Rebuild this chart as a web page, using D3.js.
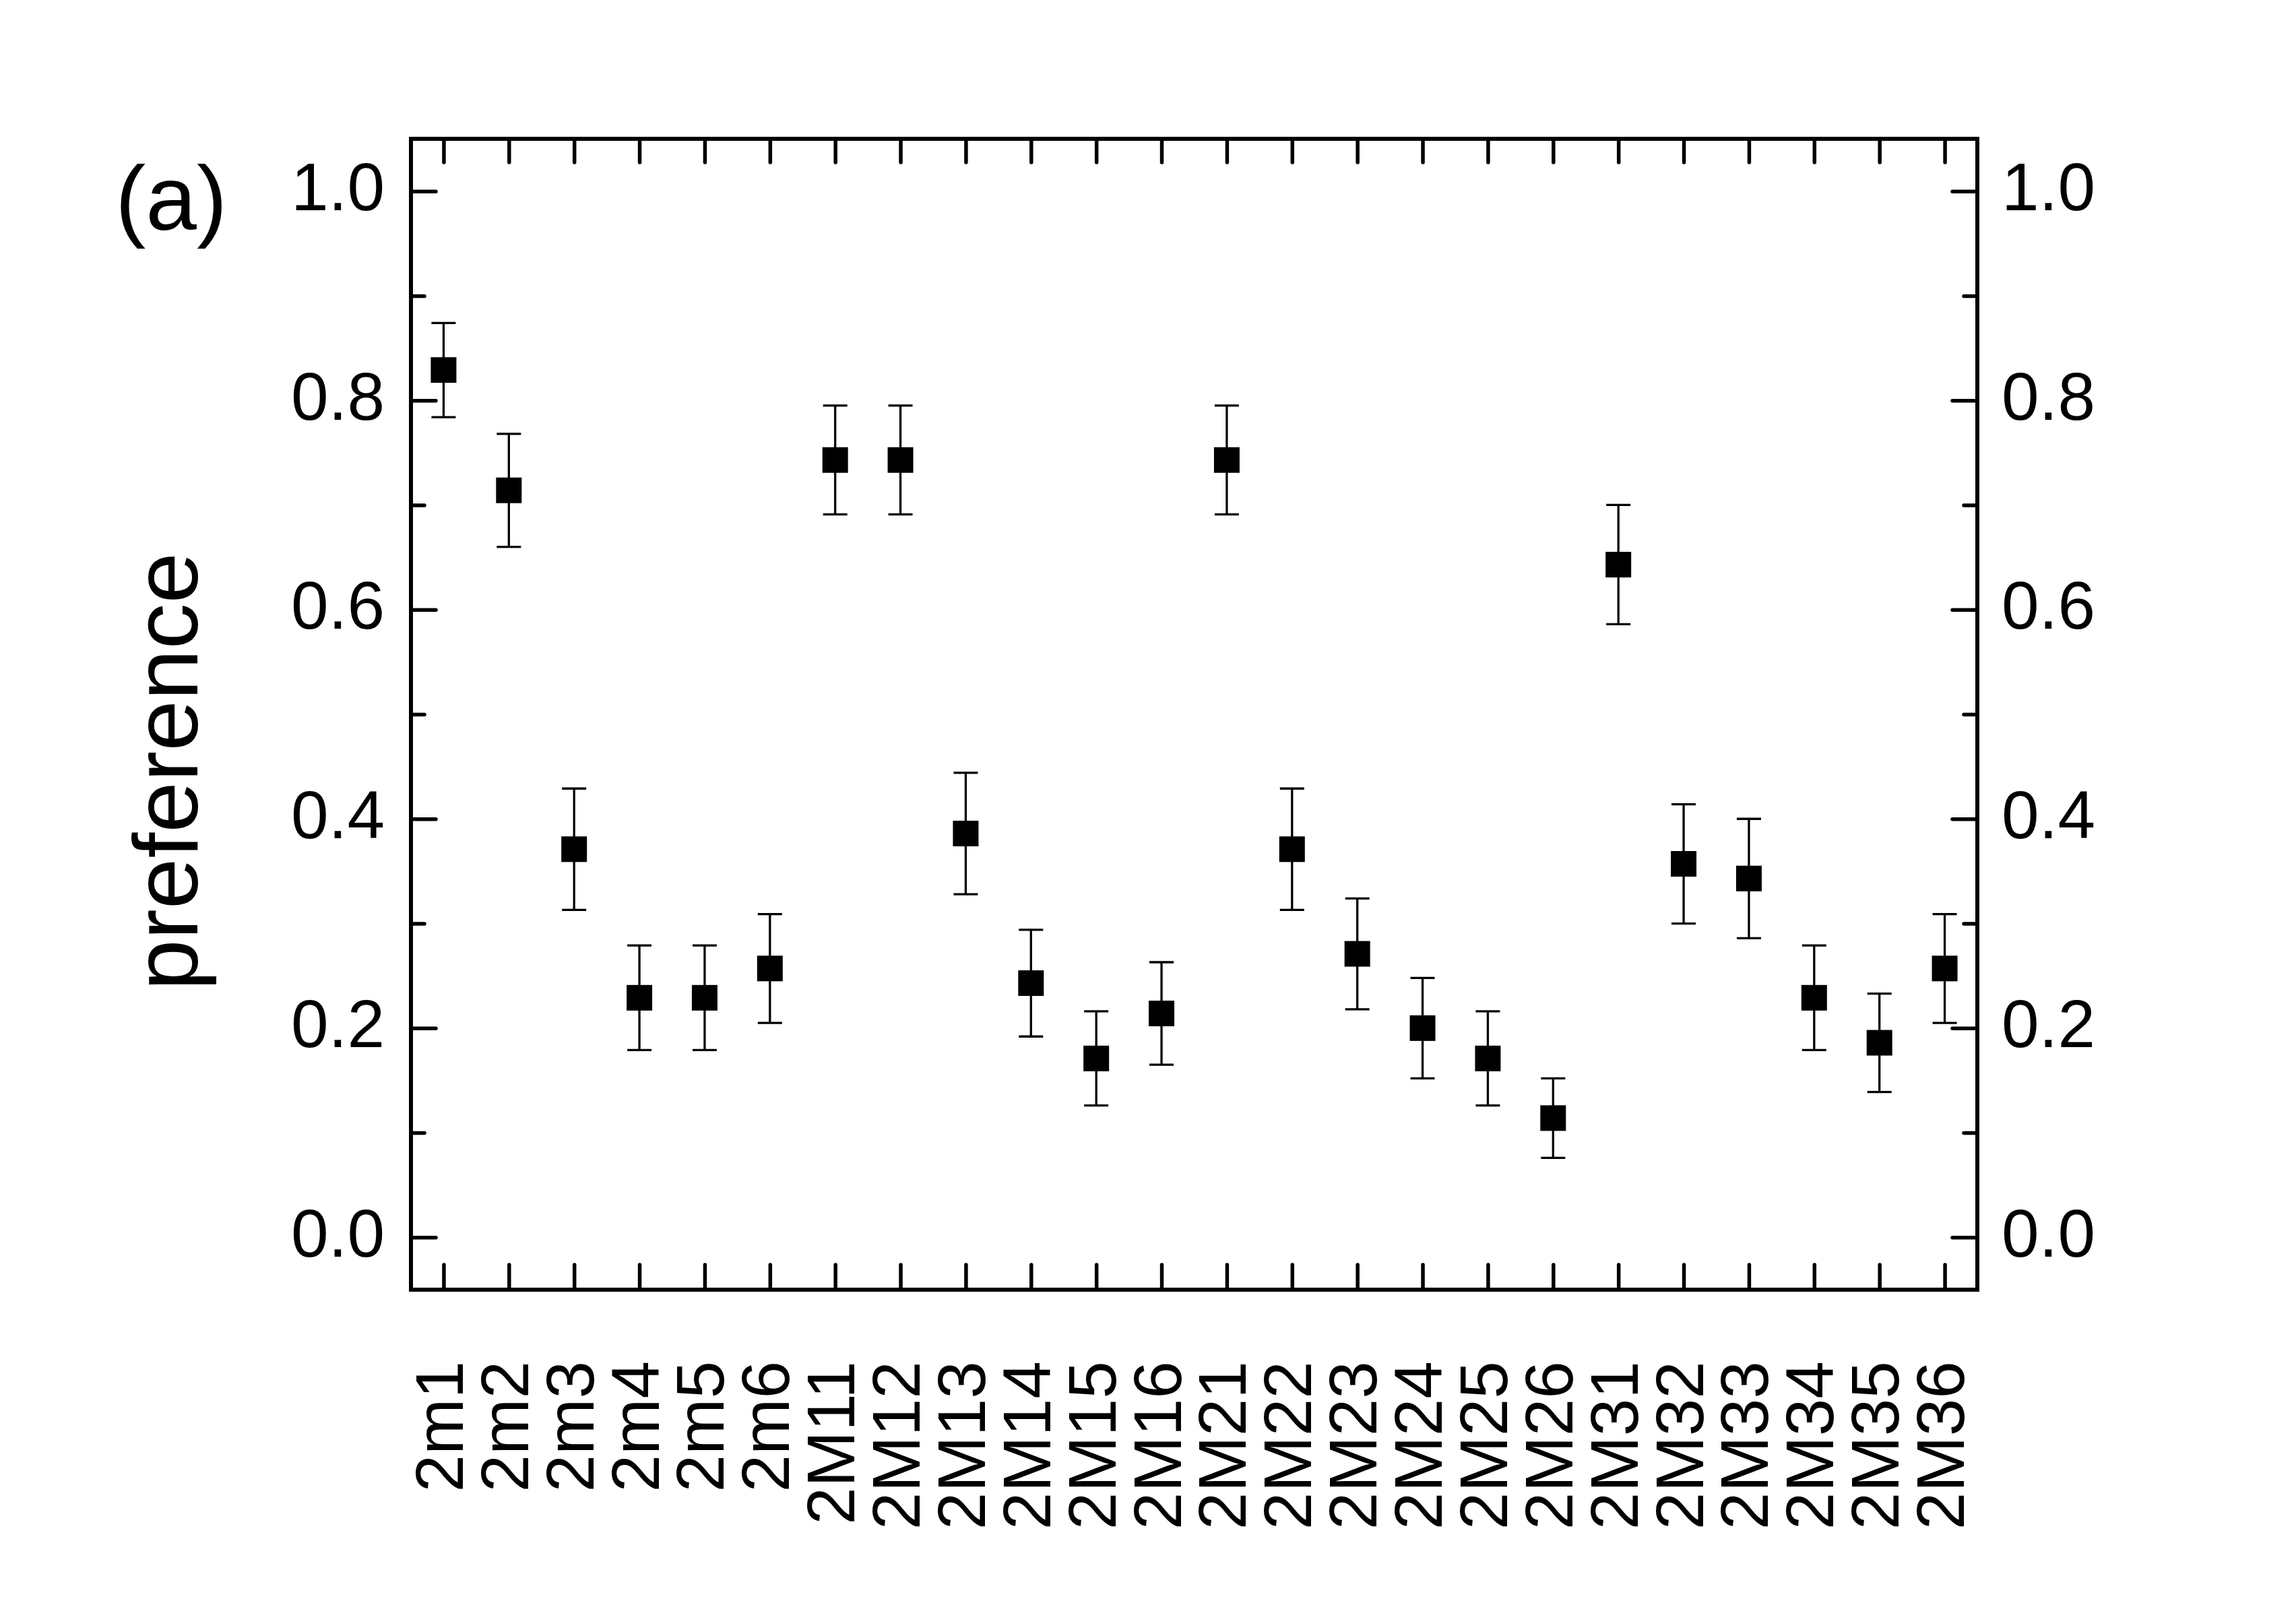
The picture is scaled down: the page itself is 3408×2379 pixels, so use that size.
<!DOCTYPE html>
<html>
<head>
<meta charset="utf-8">
<script src="https://cdn.jsdelivr.net/npm/d3@7"></script>
<style>
  body { margin: 0; background: #ffffff; }
  svg text { font-family: "Liberation Sans", Arial, sans-serif; fill: #000000; }
</style>
</head>
<body>
<svg id="chart" width="3408" height="2379"></svg>
<script>
// categories along x
var categories = ["2m1", "2m2", "2m3", "2m4", "2m5", "2m6",
    "2M11", "2M12", "2M13", "2M14", "2M15", "2M16",
    "2M21", "2M22", "2M23", "2M24", "2M25", "2M26",
    "2M31", "2M32", "2M33", "2M34", "2M35", "2M36"];
// preference values
var preference = [0.829, 0.714, 0.371, 0.229, 0.229, 0.257,
    0.743, 0.743, 0.386, 0.243, 0.171, 0.214,
    0.743, 0.371, 0.271, 0.200, 0.171, 0.114,
    0.643, 0.357, 0.343, 0.229, 0.186, 0.257];
// symmetric error bar half-lengths
var errors = [0.045, 0.054, 0.058, 0.050, 0.050, 0.052,
    0.052, 0.052, 0.058, 0.051, 0.045, 0.049,
    0.052, 0.058, 0.053, 0.048, 0.045, 0.038,
    0.057, 0.057, 0.057, 0.050, 0.047, 0.052];
var majorTicks = [0.0, 0.2, 0.4, 0.6, 0.8, 1.0];
var minorTicks = [0.1, 0.3, 0.5, 0.7, 0.9];

var svg = d3.select("#chart");
svg.append("rect").attr("width", 3408).attr("height", 2379).style("fill", "#ffffff");

// plot frame (note: "top" is a reserved window property, so use other names)
var frameL = 610, frameR = 2935, frameT = 206, frameB = 1914;

var x = d3.scaleLinear().domain([0.5, categories.length + 0.5]).range([frameL, frameR]);
var y = d3.scaleLinear().domain([-0.05, 1.05]).range([frameB, frameT]);

var idx = categories.map(function(d, i) { return i + 1; });
var fmt = d3.format(".1f");

// left axis, major + minor ticks pointing inward
var gl = svg.append("g").attr("transform", "translate(" + frameL + ",0)")
    .call(d3.axisLeft(y).tickValues(majorTicks).tickFormat(fmt).tickSize(-37).tickPadding(39));
svg.append("g").attr("transform", "translate(" + frameL + ",0)")
    .call(d3.axisLeft(y).tickValues(minorTicks).tickFormat("").tickSize(-20));

// right axis
var gr = svg.append("g").attr("transform", "translate(" + frameR + ",0)")
    .call(d3.axisRight(y).tickValues(majorTicks).tickFormat(fmt).tickSize(-37).tickPadding(36));
svg.append("g").attr("transform", "translate(" + frameR + ",0)")
    .call(d3.axisRight(y).tickValues(minorTicks).tickFormat("").tickSize(-20));

// bottom axis with rotated category labels
var gb = svg.append("g").attr("transform", "translate(0," + frameB + ")")
    .call(d3.axisBottom(x).tickValues(idx).tickFormat(function(d) { return categories[d - 1]; })
    .tickSize(-37));
gb.selectAll(".tick text")
    .attr("transform", "rotate(-90)")
    .attr("x", -106).attr("y", 28).attr("dy", 0)
    .style("text-anchor", "end");

// top axis, ticks only
svg.append("g").attr("transform", "translate(0," + frameT + ")")
    .call(d3.axisTop(x).tickValues(idx).tickFormat("").tickSize(-35));

svg.selectAll(".domain").remove();
svg.selectAll(".tick line").attr("stroke", "#000").attr("stroke-width", 5.5)
    .attr("stroke-linecap", "round");
svg.selectAll(".tick text").attr("font-size", null).style("font-size", "100px")
    .style("font-family", "'Liberation Sans', Arial, sans-serif");
gl.selectAll(".tick text").attr("dy", "0.28em");
gr.selectAll(".tick text").attr("dy", "0.28em");

svg.append("rect")
    .attr("x", frameL).attr("y", frameT)
    .attr("width", frameR - frameL).attr("height", frameB - frameT)
    .style("fill", "none").style("stroke", "#000").style("stroke-width", 6);

// error bars and square markers
var pts = svg.append("g").attr("class", "points")
    .selectAll("g").data(preference).enter().append("g");

pts.append("line")
    .attr("x1", function(d, i) { return x(i + 1); })
    .attr("x2", function(d, i) { return x(i + 1); })
    .attr("y1", function(d, i) { return y(d + errors[i]); })
    .attr("y2", function(d, i) { return y(d - errors[i]); })
    .style("stroke", "#000").style("stroke-width", 3.3);

[1, -1].forEach(function(s) {
    pts.append("line")
        .attr("x1", function(d, i) { return x(i + 1) - 18; })
        .attr("x2", function(d, i) { return x(i + 1) + 18; })
        .attr("y1", function(d, i) { return y(d + s * errors[i]); })
        .attr("y2", function(d, i) { return y(d + s * errors[i]); })
        .style("stroke", "#000").style("stroke-width", 3.3);
});

pts.append("rect")
    .attr("x", function(d, i) { return x(i + 1) - 19; })
    .attr("y", function(d) { return y(d) - 19; })
    .attr("width", 38).attr("height", 38)
    .style("fill", "#000");

// axis title and panel letter
svg.append("text")
    .attr("transform", "translate(293,1145) rotate(-90)")
    .style("text-anchor", "middle").style("font-size", "136px")
    .text("preference");

svg.append("text")
    .attr("x", 171).attr("y", 341)
    .style("font-size", "136px")
    .text("(a)");
</script>
</body>
</html>
